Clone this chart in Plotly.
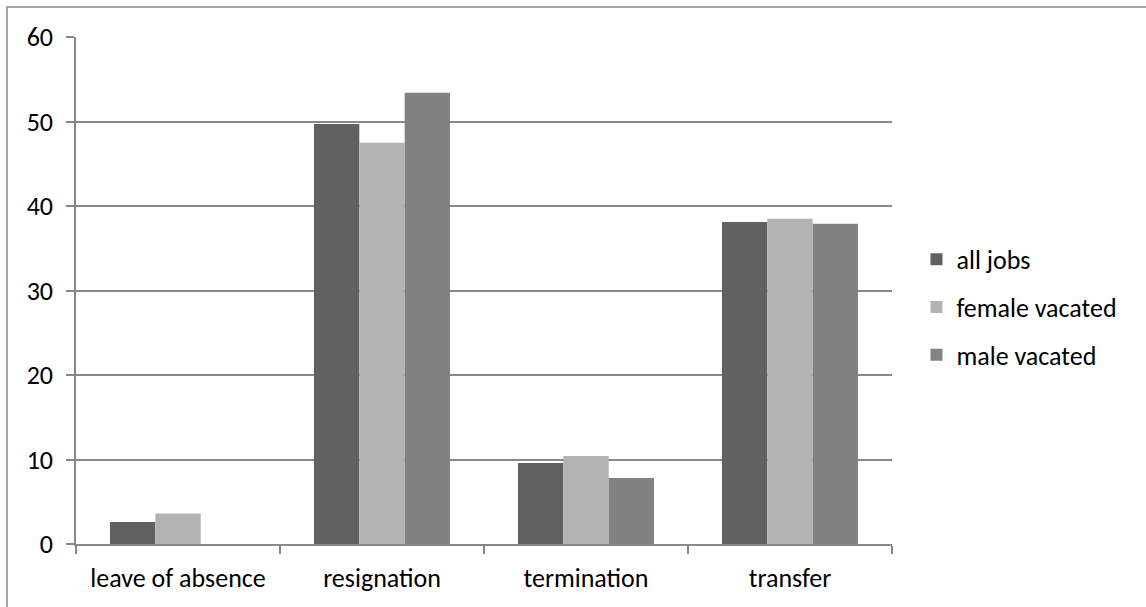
import plotly.graph_objects as go

# Reasons a job was vacated, in percent
categories = ["leave of absence", "resignation", "termination", "transfer"]
all_jobs = [2.6, 49.7, 9.6, 38.1]
female_vacated = [3.6, 47.5, 10.4, 38.5]
male_vacated = [0.0, 53.4, 7.8, 37.9]

series = [
    ("all jobs", all_jobs, "#616161"),
    ("female vacated", female_vacated, "#b3b3b3"),
    ("male vacated", male_vacated, "#828282"),
]

W, H = 1146, 607
L, R, T, B = 76, 254, 37, 63

fig = go.Figure()
for i, (name, vals, color) in enumerate(series):
    fig.add_trace(go.Bar(
        x=categories, y=vals, name=name,
        marker=dict(color=color, line=dict(width=0)),
        legendgroup=f"g{i}",
    ))

font = dict(family="Carlito, Lato, Liberation Sans, sans-serif", size=26, color="#000000")
grid_col = "#888888"

# pixel -> paper helpers for the outer frame
pw, ph = W - L - R, H - T - B
def px(x):
    return (x - L) / pw
def py(y):
    return (H - B - y) / ph

fig.update_layout(
    width=W, height=H,
    margin=dict(l=L, r=R, t=T, b=B),
    paper_bgcolor="white", plot_bgcolor="white",
    font=font,
    barmode="group", bargap=0.333, bargroupgap=0,
    showlegend=True,
    legend=dict(
        x=1.03, xanchor="left", y=0.467, yanchor="middle",
        font=dict(size=26, family=font["family"]),
        tracegroupgap=11, itemwidth=30,
        bgcolor="rgba(0,0,0,0)",
    ),
    xaxis=dict(
        showgrid=False, showline=True, linecolor=grid_col, linewidth=1.5,
        ticks="outside", tickson="boundaries", ticklen=8, tickcolor=grid_col, tickwidth=1.5,
        tickfont=font, ticklabelstandoff=10,
    ),
    yaxis=dict(
        range=[0, 60], dtick=10, showgrid=True, gridcolor=grid_col, gridwidth=1.5,
        showline=True, linecolor=grid_col, linewidth=1.5,
        ticks="outside", ticklen=8, tickcolor=grid_col, tickwidth=1.5,
        tickfont=font, zeroline=False, ticklabelstandoff=8,
    ),
    shapes=[dict(
        type="rect", xref="paper", yref="paper",
        x0=px(7), x1=px(1160), y0=py(620), y1=py(7),
        line=dict(color="#888888", width=1.5), fillcolor="rgba(0,0,0,0)", layer="below",
    )],
)

fig.write_html("out.html")
